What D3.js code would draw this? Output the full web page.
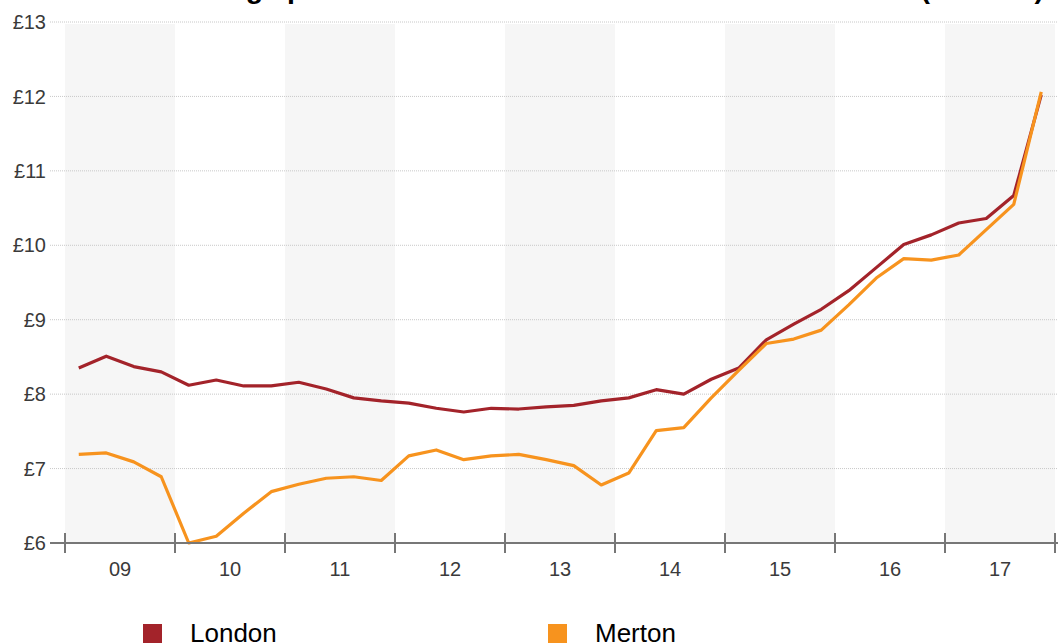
<!DOCTYPE html>
<html>
<head>
<meta charset="utf-8">
<script src="https://cdn.jsdelivr.net/npm/d3@7"></script>
<style>
  html, body { margin: 0; padding: 0; background: #fff; }
  svg { display: block; }
</style>
</head>
<body>
<svg id="chart" width="1058" height="643"></svg>
<script>
// Quarterly hourly pay, 2009 Q1 to 2017 Q4
const years = ["09", "10", "11", "12", "13", "14", "15", "16", "17"];
const yTicks = [6, 7, 8, 9, 10, 11, 12, 13];

const london = [
  8.35, 8.51, 8.37, 8.30,
  8.12, 8.19, 8.11, 8.11,
  8.16, 8.07, 7.95, 7.91,
  7.88, 7.81, 7.76, 7.81,
  7.80, 7.83, 7.85, 7.91,
  7.95, 8.06, 8.00, 8.20,
  8.35, 8.73, 8.94, 9.14,
  9.39, 9.70, 10.01, 10.14,
  10.30, 10.36, 10.67, 12.02
];
const merton = [
  7.19, 7.21, 7.09, 6.89,
  6.00, 6.09, 6.40, 6.69,
  6.79, 6.87, 6.89, 6.84,
  7.17, 7.25, 7.12, 7.17,
  7.19, 7.12, 7.04, 6.78,
  6.94, 7.51, 7.55, 7.95,
  8.32, 8.68, 8.74, 8.86,
  9.20, 9.56, 9.82, 9.80,
  9.87, 10.21, 10.55, 12.06
];

const seriesNames = ["London", "Merton"];
const seriesColors = ["#a3232a", "#f7931e"];
const title = "Median earnings per hour for all workers in Merton and London (2009-17)";

const svg = d3.select("#chart");
const plotLeft = 65, plotRight = 1055, plotTop = 22, plotBottom = 543;

const x = d3.scaleLinear().domain([0, years.length * 4]).range([plotLeft, plotRight]);
const y = d3.scaleLinear().domain([6, 13]).range([plotBottom, plotTop]);

// Title sits above the frame
svg.append("text")
  .attr("x", 1044).attr("y", -2)
  .attr("text-anchor", "end")
  .attr("font-family", "Liberation Sans, Arial, sans-serif")
  .attr("font-weight", "bold")
  .attr("font-size", 28.5)
  .attr("fill", "#000")
  .text(title);

// Alternating year bands
svg.append("g").selectAll("rect")
  .data(years.map((d, i) => i).filter(i => i % 2 === 0))
  .join("rect")
  .attr("x", i => x(i * 4))
  .attr("width", i => x(i * 4 + 4) - x(i * 4))
  .attr("y", y(13) + 2)
  .attr("height", y(6) - y(13) - 2)
  .attr("fill", "#f6f6f6");

// Horizontal grid lines
svg.append("g").selectAll("line")
  .data(yTicks.filter(v => v > 6))
  .join("line")
  .attr("x1", 50).attr("x2", 1058)
  .attr("y1", d => y(d)).attr("y2", d => y(d))
  .attr("stroke", "#c8c8c8")
  .attr("stroke-width", 1)
  .attr("stroke-dasharray", "1,1");

// Y axis labels
svg.append("g").selectAll("text")
  .data(yTicks)
  .join("text")
  .attr("x", 46)
  .attr("y", d => y(d))
  .attr("dy", "0.36em")
  .attr("text-anchor", "end")
  .attr("font-family", "Liberation Sans, Arial, sans-serif")
  .attr("font-size", 20)
  .attr("fill", "#3a3a3a")
  .text(d => "£" + d);

// Lines
const line = d3.line()
  .x((d, i) => x(i + 0.5))
  .y(d => y(d));

[london, merton].forEach((data, s) => {
  svg.append("path")
    .datum(data)
    .attr("d", line)
    .attr("fill", "none")
    .attr("stroke", seriesColors[s])
    .attr("stroke-width", 3.2)
    .attr("stroke-linejoin", "round");
});

// Bottom axis
const xAxis = svg.append("g");
xAxis.append("line")
  .attr("x1", 50).attr("x2", 1058)
  .attr("y1", plotBottom).attr("y2", plotBottom)
  .attr("stroke", "#777").attr("stroke-width", 2);
xAxis.selectAll("line.tick")
  .data(d3.range(years.length + 1))
  .join("line")
  .attr("class", "tick")
  .attr("x1", i => x(i * 4)).attr("x2", i => x(i * 4))
  .attr("y1", plotBottom - 10).attr("y2", plotBottom + 10)
  .attr("stroke", "#777").attr("stroke-width", 2);
xAxis.selectAll("text")
  .data(years)
  .join("text")
  .attr("x", (d, i) => x(i * 4 + 2))
  .attr("y", 576)
  .attr("text-anchor", "middle")
  .attr("font-family", "Liberation Sans, Arial, sans-serif")
  .attr("font-size", 20)
  .attr("fill", "#3a3a3a")
  .text(d => d);

// Legend
const legendX = [143, 548];
const legend = svg.append("g");
seriesNames.forEach((name, s) => {
  legend.append("rect")
    .attr("x", legendX[s]).attr("y", 624)
    .attr("width", 19).attr("height", 19)
    .attr("fill", seriesColors[s]);
  legend.append("text")
    .attr("x", legendX[s] + 47).attr("y", 642)
    .attr("font-family", "Liberation Sans, Arial, sans-serif")
    .attr("font-size", 26)
    .attr("fill", "#000")
    .text(name);
});
</script>
</body>
</html>
